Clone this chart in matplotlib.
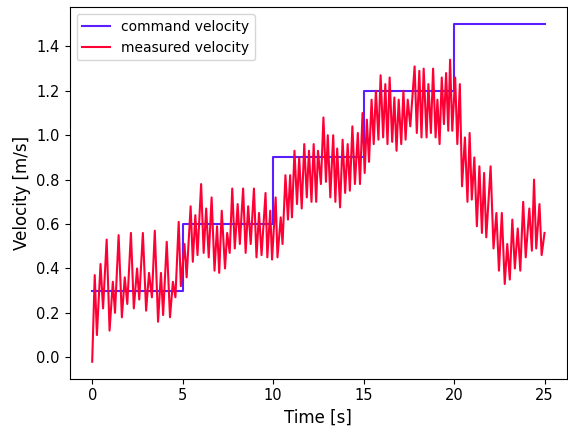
import matplotlib
matplotlib.use("Agg")
import matplotlib.pyplot as plt
import numpy as np

# commanded speed steps (held until the next step time)
cmd_time = [0, 5, 10, 15, 20, 25]
cmd_vel = [0.3, 0.6, 0.9, 1.2, 1.5, 1.5]

# measured speed: turning points of the logged signal
meas_time = [
    0.00, 0.14, 0.26, 0.46, 0.60, 0.80, 0.96, 1.14, 1.26, 1.46, 1.64, 1.80, 1.94,
    2.14, 2.30, 2.48, 2.60, 2.80, 2.98, 3.14, 3.30, 3.46, 3.64, 3.80, 3.92, 4.12,
    4.30, 4.46, 4.60, 4.78, 4.90,
    5.10, 5.22, 5.44, 5.56, 5.70, 5.82, 6.02, 6.16, 6.30, 6.44, 6.60, 6.76, 6.90,
    7.02, 7.16, 7.34, 7.46, 7.60, 7.74, 7.88, 8.04, 8.16, 8.34, 8.48, 8.62, 8.76,
    8.94, 9.08, 9.22, 9.36, 9.58, 9.68, 9.84, 9.94,
    10.14, 10.24, 10.42, 10.52, 10.68, 10.82, 10.94, 11.04, 11.18, 11.32, 11.44,
    11.58, 11.72, 11.86, 11.98, 12.12, 12.24, 12.38, 12.48, 12.64, 12.78, 12.92,
    13.02, 13.16, 13.32, 13.44, 13.54, 13.70, 13.84, 13.98, 14.12, 14.24, 14.38,
    14.52, 14.68, 14.80, 14.94, 15.06,
    15.18, 15.30, 15.44, 15.56, 15.68, 15.82, 15.94, 16.08, 16.20, 16.32, 16.44,
    16.58, 16.70, 16.82, 16.94, 17.08, 17.20, 17.32, 17.44, 17.58, 17.82, 17.94,
    18.08, 18.20, 18.32, 18.48, 18.58, 18.72, 18.84, 18.98, 19.08, 19.20, 19.32,
    19.44, 19.56, 19.68, 19.78, 19.90, 20.06, 20.18,
    20.32, 20.44, 20.60, 20.74, 20.86, 20.98, 21.12, 21.26, 21.40, 21.54, 21.66,
    21.78, 22.02, 22.18, 22.34, 22.48, 22.64, 22.80, 22.94, 23.08, 23.22, 23.36,
    23.52, 23.66, 23.82, 23.96, 24.16, 24.30, 24.42, 24.54, 24.72, 24.84, 25.00,
]
meas_vel = [
    -0.02, 0.37, 0.10, 0.42, 0.22, 0.53, 0.12, 0.34, 0.20, 0.55, 0.18, 0.36, 0.24,
    0.56, 0.22, 0.40, 0.26, 0.56, 0.21, 0.38, 0.27, 0.57, 0.16, 0.38, 0.19, 0.52,
    0.18, 0.34, 0.27, 0.61, 0.32,
    0.51, 0.36, 0.68, 0.43, 0.64, 0.46, 0.78, 0.47, 0.67, 0.45, 0.72, 0.39, 0.59,
    0.38, 0.66, 0.40, 0.56, 0.47, 0.76, 0.49, 0.69, 0.51, 0.76, 0.47, 0.68, 0.51,
    0.76, 0.45, 0.65, 0.46, 0.74, 0.45, 0.66, 0.44,
    0.72, 0.45, 0.63, 0.51, 0.82, 0.62, 0.82, 0.63, 0.93, 0.69, 0.90,
    0.67, 0.96, 0.72, 0.93, 0.70, 0.96, 0.70, 0.93, 0.78, 1.08, 0.79,
    1.00, 0.72, 1.00, 0.70, 0.94, 0.675, 0.98, 0.74, 0.96, 0.75, 1.04,
    0.78, 1.01, 0.78, 1.10, 0.83,
    1.07, 0.88, 1.16, 0.96, 1.20, 0.98, 1.27, 0.99, 1.23, 0.96, 1.26,
    0.97, 1.17, 0.93, 1.16, 0.96, 1.20, 0.98, 1.16, 1.04, 1.31, 1.01,
    1.29, 0.99, 1.30, 0.99, 1.23, 1.01, 1.30, 0.99, 1.16, 0.96, 1.26,
    1.05, 1.28, 1.02, 1.34, 1.02, 1.26, 0.96,
    1.23, 0.77, 0.99, 0.70, 1.01, 0.71, 0.90, 0.59, 0.86, 0.56, 0.83,
    0.54, 0.86, 0.49, 0.65, 0.39, 0.65, 0.33, 0.51, 0.35, 0.62, 0.40,
    0.58, 0.39, 0.70, 0.45, 0.67, 0.48, 0.80, 0.49, 0.69, 0.46, 0.56,
]

fig = plt.figure(figsize=(5.68, 4.32), dpi=100)
ax = fig.add_axes([0.1225, 0.1236, 0.876, 0.8595])

ax.plot(cmd_time, cmd_vel, drawstyle="steps-post", color="#5a1eff",
        lw=1.5, label="command velocity")
ax.plot(meas_time, meas_vel, color="#ff0035", lw=1.5, label="measured velocity")

ax.set_xticks([0, 5, 10, 15, 20, 25])
ax.tick_params(labelsize=10.5)
ax.set_xlabel("Time [s]", fontsize=12)
ax.set_ylabel("Velocity [m/s]", fontsize=12)
ax.legend(loc="upper left", fontsize=10)

fig.savefig("out.png", dpi=100)
